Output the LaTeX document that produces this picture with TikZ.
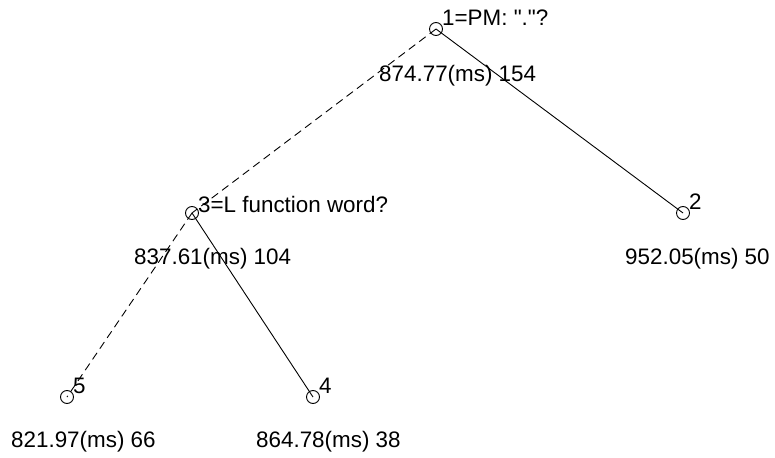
\documentclass[tikz,border=0pt]{standalone}
\usepackage{fontspec}
\newfontfamily\treefont{Liberation Sans}
\usetikzlibrary{positioning}

\begin{document}
\begin{tikzpicture}[x=1pt,y=-1pt,
  split/.style={circle,draw,line width=0.9pt,minimum size=13pt,inner sep=0pt},
  txt/.style={anchor=base west,inner sep=0pt,font=\fontsize{22.4}{24}\treefont},
  nobranch/.style={line width=0.9pt,dash pattern=on 8pt off 5pt},
  yesbranch/.style={line width=0.9pt}]
  \useasboundingbox (0,0) rectangle (775,457);

  % tree nodes
  \node[split] (n1) at (436,29) {};
  \node[split] (n3) at (192,213) {};
  \node[split] (n2) at (683,213) {};
  \node[split] (n5) at (67,397) {};
  \node[split] (n4) at (313,397) {};

  % branches
  \draw[nobranch] (n1.center)--(n3.center);
  \draw[yesbranch] (n1.center)--(n2.center);
  \draw[nobranch] (n3.center)--(n5.center);
  \draw[yesbranch] (n3.center)--(n4.center);

  % questions and leaf numbers
  \node[txt] (q1) at ([xshift=6pt,yshift=3pt]n1.center) {1=PM: "."?};
  \node[txt] (q3) at ([xshift=6pt,yshift=1pt]n3.center) {3=L function word?};
  \node[txt] (q2) at ([xshift=6pt,yshift=4pt]n2.center) {2};
  \node[txt] (q5) at ([xshift=6pt,yshift=4pt]n5.center) {5};
  \node[txt] (q4) at ([xshift=6pt,yshift=4pt]n4.center) {4};

  % mean durations and counts
  \node[txt] (v1) at ([xshift=-57pt,yshift=-53pt]n1.center) {874.77(ms) 154};
  \node[txt] (v3) at ([xshift=-58pt,yshift=-51pt]n3.center) {837.61(ms) 104};
  \node[txt] (v2) at ([xshift=-58pt,yshift=-51pt]n2.center) {952.05(ms) 50};
  \node[txt] (v5) at ([xshift=-56pt,yshift=-50pt]n5.center) {821.97(ms) 66};
  \node[txt] (v4) at ([xshift=-57pt,yshift=-50pt]n4.center) {864.78(ms) 38};
\end{tikzpicture}
\end{document}
